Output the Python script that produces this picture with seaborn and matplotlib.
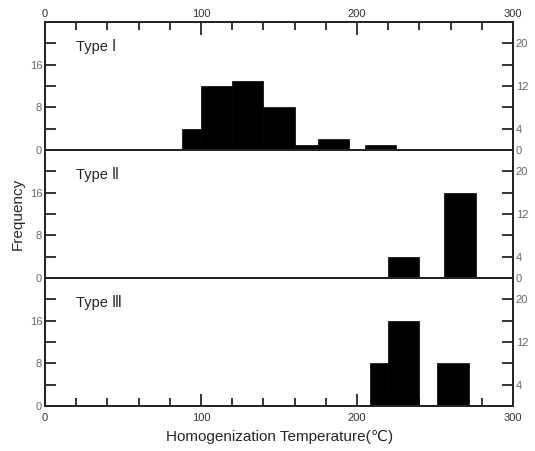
import numpy as np
import pandas as pd
import matplotlib
matplotlib.use("Agg")
import matplotlib.pyplot as plt
import seaborn as sns
from matplotlib.ticker import MultipleLocator

# histogram bin edges (deg C) and counts
type1_edges = [88, 100, 120, 140, 160, 175, 195, 205, 225]
type1_counts = [4, 12, 13, 8, 1, 2, 0, 1]
type2_edges = [220, 240, 256, 276]
type2_counts = [4, 0, 16]
type3_edges = [208, 220, 240, 251, 272]
type3_counts = [8, 16, 0, 8]
panel_labels = ["Type Ⅰ", "Type Ⅱ", "Type Ⅲ"]

y_ticks = [0, 4, 8, 12, 16, 20]
left_labels = ["0", "", "8", "", "16", ""]
right_labels = ["0", "4", "", "12", "", "20"]
right_labels_bottom = ["", "4", "", "12", "", "20"]
x_ticks = [0, 100, 200, 300]

sns.set_style("white")
plt.rcParams['font.family'] = ['Liberation Sans', 'DejaVu Sans']

fig, axes = plt.subplots(3, 1, figsize=(5.35, 4.51), dpi=100, sharex=True)
fig.subplots_adjust(left=0.084, right=0.959, top=0.951, bottom=0.10, hspace=0)

panels = [(type1_edges, type1_counts), (type2_edges, type2_counts), (type3_edges, type3_counts)]

for i, (ax, (edges, counts)) in enumerate(zip(axes, panels)):
    e = np.array(edges, dtype=float)
    df = pd.DataFrame({"temp": (e[:-1] + e[1:]) / 2, "n": counts})
    sns.histplot(data=df, x="temp", weights="n", bins=list(edges), color="black", alpha=1,
                 edgecolor="black", linewidth=0.5, ax=ax)
    ax.set_xlim(0, 300)
    ax.set_ylim(0, 24)
    ax.set_ylabel("")
    ax.set_xlabel("")
    for sp in ax.spines.values():
        sp.set_linewidth(1.4)
        sp.set_color("black")

    # left axis
    ax.set_yticks(y_ticks)
    ax.set_yticklabels(left_labels)
    ax.tick_params(axis="y", which="both", direction="in", length=8, width=1.3,
                   left=True, right=False, labelsize=8, labelcolor="#666666", pad=2)

    # x ticks only on the outer edges
    ax.set_xticks(x_ticks)
    ax.xaxis.set_minor_locator(MultipleLocator(20))
    ax.tick_params(axis="x", which="both", bottom=False, top=False,
                   labelbottom=False, labeltop=False)

    # right axis
    ax2 = ax.twinx()
    ax2.set_ylim(0, 24)
    ax2.set_yticks(y_ticks)
    ax2.set_yticklabels(right_labels_bottom if i == 2 else right_labels)
    ax2.tick_params(axis="y", direction="in", length=8, width=1.3,
                    labelsize=8, labelcolor="#666666", pad=2)
    for sp in ax2.spines.values():
        sp.set_linewidth(1.4)

    ax.text(20, 18.5, panel_labels[i], fontsize=10.5, color="#222222")

axes[0].tick_params(axis="x", which="both", top=True, labeltop=True, direction="in",
                    width=1.3, labelsize=8, labelcolor="#333333", pad=2)
axes[0].tick_params(axis="x", which="major", length=9)
axes[0].tick_params(axis="x", which="minor", length=6)

axes[2].tick_params(axis="x", which="both", bottom=True, labelbottom=True, direction="in",
                    width=1.3, labelsize=8, labelcolor="#333333", pad=5)
axes[2].tick_params(axis="x", which="major", length=9)
axes[2].tick_params(axis="x", which="minor", length=6)

fig.text(0.034, 0.525, "Frequency", rotation=90, ha="center", va="center", fontsize=11)
fig.text(0.523, 0.031, "Homogenization Temperature(℃)", ha="center", va="center", fontsize=11)

plt.savefig("out.png", dpi=100)
